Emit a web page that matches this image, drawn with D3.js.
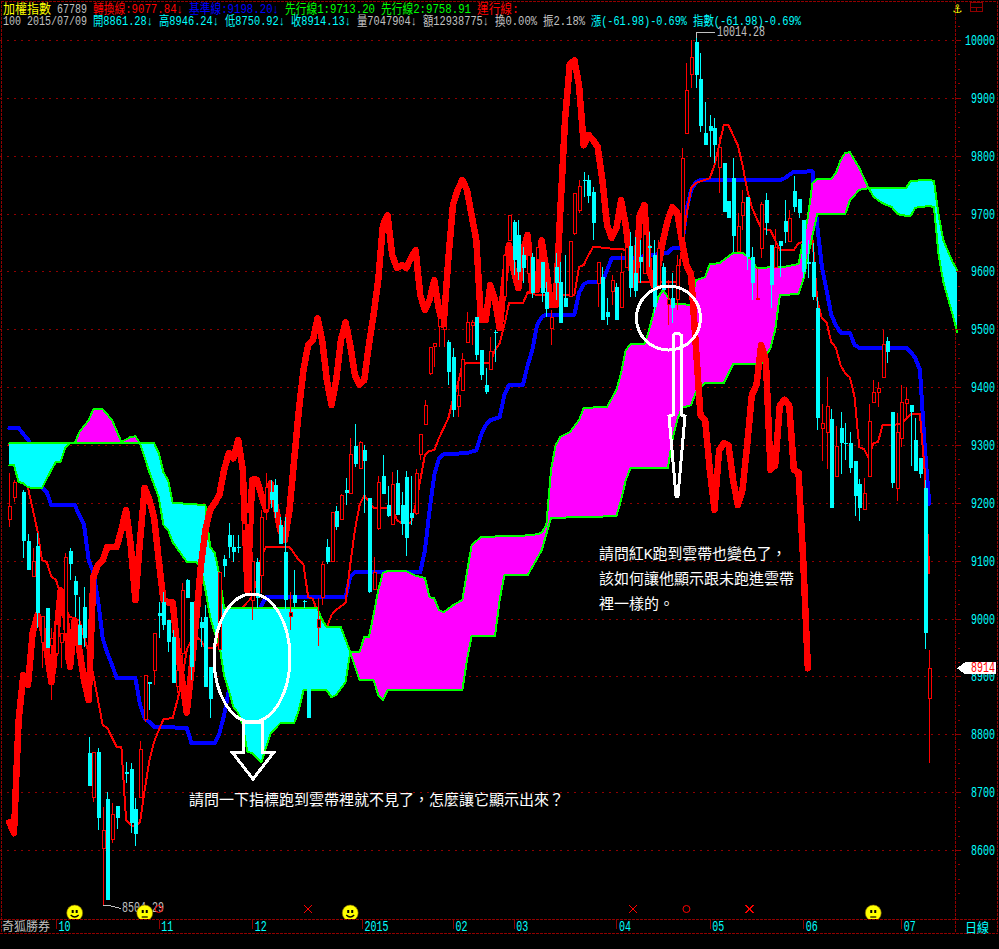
<!DOCTYPE html>
<html><head><meta charset="utf-8">
<script src="https://cdn.jsdelivr.net/npm/d3@7"></script>
<style>
html,body{margin:0;padding:0;background:#000;overflow:hidden}
svg{display:block}
text{font-family:"Liberation Mono","Noto Sans CJK TC",monospace;}
</style></head><body>
<script>
// ---------- values ----------
const priceTicks=[8600,8700,8800,8900,9000,9100,9200,9300,9400,9500,9600,9700,9800,9900,10000];
const monthDays=[10,32,52,75.5,95,108,130,150,170,191];
const monthLabels=["10","11","12","2015","02","03","04","05","06","07"];

const candleDays=[0,1,3,4,5,6,7,8,9,10,11,12,13,14,15,16,17,18,19,20,21,22,23,25,26,27,28,29,30,31,32,33,34,35,36,37,38,39,41,42,43,45,46,47,48,49,50,51,52,53,54,55,56,57,58,59,60,61,63,64,66,67,68,69,70,71,72,73,74,75,76,77,78,79,80,81,82,83,84,85,86,87,88,89,90,91,92,93,94,95,96,97,98,99,100,101,102,103,104,106,107,108,109,110,111,112,113,114,115,116,117,118,119,120,121,122,123,124,125,126,127,128,129,130,131,132,133,134,135,136,137,138,139,140,141,142,143,144,145,146,147,148,149,150,151,152,153,154,155,156,157,158,159,160,161,162,163,164,165,166,167,168,169,170,171,172,173,174,175,176,177,178,179,180,181,182,183,184,185,186,187,188,189,190,191,192,193,194,195,196,197];
const openValues=[9172,9210,9219,9134,9072,9125,8959,9018,8954,8940,8959,8975,9117,9065,8989,9020,8768,8691,8769,8603,8688,8619,8676,8735,8740,8671,8691,8825,8890,8911,9010,9028,8997,8968,8882,8940,9067,9028,8994,9003,8916,8946,9103,9144,9124,9124,9153,9162,9032,9098,9075,9188,9219,9231,9162,9115,9003,9041,9030,8882,8984,9037,9124,9098,9186,9172,9222,9217,9298,9260,9291,9208,9051,9155,9246,9196,9162,9234,9196,9245,9182,9181,9284,9336,9423,9471,9504,9500,9478,9452,9367,9395,9478,9506,9521,9464,9404,9430,9495,9556,9654,9685,9663,9628,9597,9625,9620,9616,9564,9502,9608,9582,9554,9556,9666,9706,9758,9758,9737,9580,9590,9530,9566,9573,9537,9606,9644,9597,9625,9597,9644,9628,9576,9608,9542,9554,9551,9658,9839,9941,9996,9932,9839,9851,9848,9780,9787,9722,9761,9635,9696,9729,9625,9551,9640,9723,9646,9606,9652,9687,9651,9739,9725,9689,9616,9616,9537,9329,9322,9345,9246,9329,9303,9303,9272,9232,9189,9246,9374,9391,9416,9480,9357,9224,9312,9371,9369,9309,9277,9226,8861.28];
const highValues=[9252,9239,9222,9146,9122,9148,9003,9018,8984,8997,8975,9113,9122,9074,9037,9054,8795,8769,8776,8674,8700,8681,8676,8752,8750,8690,8788,8902,8890,8975,9028,9046,8997,8980,8911,9061,9068,9028,9003,9023,8916,9079,9110,9165,9144,9144,9165,9200,9115,9105,9188,9252,9239,9241,9175,9175,9046,9084,9032,8882,9035,9098,9137,9184,9194,9215,9243,9312,9336,9307,9300,9208,9106,9246,9283,9229,9253,9257,9219,9255,9246,9258,9319,9378,9469,9476,9533,9504,9481,9468,9409,9459,9530,9516,9521,9464,9433,9487,9499,9628,9697,9689,9689,9642,9637,9632,9642,9616,9582,9533,9632,9616,9628,9651,9735,9758,9772,9767,9746,9616,9608,9554,9594,9580,9632,9642,9668,9659,9654,9663,9668,9654,9654,9614,9585,9597,9628,9813,9960,10000,10014.28,9977,9893,9870,9865,9832,9787,9722,9796,9701,9741,9729,9642,9606,9720,9735,9646,9673,9652,9723,9706,9765,9725,9689,9654,9649,9556,9371,9417,9362,9333,9357,9338,9322,9272,9241,9243,9371,9412,9409,9499,9487,9357,9355,9404,9400,9369,9347,9277,9239,8946.24];
const lowValues=[9158,9201,9105,9084,9072,8984,8914,8949,8859,8914,8914,8928,9067,9003,8954,8951,8711,8683,8634,8504.29,8514,8612,8636,8716,8629,8607,8691,8821,8842,8885,8966,8980,8942,8889,8871,8882,9035,8894,8951,8882,8828,8946,9072,9105,9098,9113,9153,9044,8997,9018,9044,9170,9191,9174,9129,9015,8980,9020,9018,8828,8953,9023,9094,9098,9153,9170,9196,9217,9262,9260,9182,9044,9049,9153,9215,9175,9162,9179,9144,9108,9162,9179,9274,9336,9421,9435,9469,9469,9404,9348,9348,9395,9476,9473,9447,9412,9388,9430,9443,9556,9654,9594,9585,9580,9597,9554,9616,9547,9521,9473,9551,9511,9538,9556,9663,9701,9729,9718,9654,9538,9516,9507,9542,9516,9537,9606,9556,9556,9580,9597,9608,9528,9576,9568,9507,9511,9533,9658,9839,9917,9917,9841,9818,9798,9787,9735,9703,9692,9633,9635,9671,9602,9551,9551,9623,9663,9537,9606,9590,9649,9651,9703,9692,9588,9588,9551,9326,9272,9258,9191,9246,9250,9274,9252,9177,9169,9189,9246,9374,9366,9416,9442,9226,9203,9296,9348,9264,9255,9243,8947,8750.92];
const closeValues=[9193,9236,9134,9084,9098,9010,9003,8949,8966,8989,8975,9105,9094,9041,8954,8966,8711,8768,8655,8633,8514,8662,8655,8731,8647,8628,8773,8902,8887,8975,9004,8989,8959,8889,8911,9049,9035,8916,8984,8882,8861,9079,9091,9124,9115,9122,9165,9184,9098,9035,9174,9226,9205,9184,9129,9032,9011,9027,9028,8828,8999,9094,9098,9184,9158,9212,9217,9284,9267,9305,9272,9046,9079,9236,9215,9177,9231,9179,9163,9139,9174,9250,9319,9369,9468,9476,9519,9504,9426,9360,9386,9447,9512,9511,9455,9421,9391,9461,9493,9628,9697,9620,9599,9606,9628,9563,9642,9563,9535,9521,9580,9511,9538,9651,9735,9746,9756,9730,9684,9616,9516,9521,9585,9516,9599,9642,9571,9566,9616,9663,9640,9538,9640,9568,9551,9537,9611,9796,9912,9970,9939,9851,9818,9843,9818,9815,9703,9692,9661,9678,9720,9625,9580,9554,9715,9684,9576,9642,9644,9668,9692,9711,9701,9599,9613,9556,9347,9338,9367,9191,9298,9303,9302,9260,9212,9191,9217,9340,9390,9397,9473,9461,9234,9322,9374,9378,9357,9255,9250,8975,8914.13];

const laggingValues=[8648,8629,8825,8902,8885,8975,9006,8985,8946,8890,8963,9049,9010,8916,8997,8946,8894,8859,9072,9093,9101,9124,9124,9124,9153,9188,9127,9032,9136,9226,9205,9175,9101,9032,9028,9028,8946,8894,8837,8911,8998,9089,9153,9188,9200,9214,9257,9286,9277,9309,9257,9049,9240,9240,9213,9188,9234,9196,9153,9136,9188,9274,9360,9430,9473,9481,9519,9481,9412,9369,9412,9481,9512,9473,9421,9404,9412,9473,9525,9585,9680,9697,9628,9606,9611,9606,9623,9637,9559,9533,9551,9585,9533,9507,9620,9715,9741,9758,9741,9697,9654,9516,9516,9576,9551,9502,9585,9646,9602,9571,9637,9663,9568,9568,9654,9602,9542,9542,9706,9862,9957,9965,9922,9818,9836,9827,9815,9758,9680,9658,9675,9723,9680,9611,9576,9697,9715,9602,9576,9611,9654,9689,9711,9702,9654,9611,9594,9473,9352,9343,9257,9188,9291,9303,9300,9239,9196,9222,9300,9386,9404,9473,9447,9257,9265,9369,9378,9369,9257,9253,9101,8914];

const baseDays=[0,2,4,5,7,8,9,14,16,17,18,19,20,21,22,23,27,28,29,30,31,38,39,44,45,46,47,53,54,55,72,73,74,88,89,90,91,92,93,98,100,101,102,103,105,106,107,110,111,112,113,114,115,121,122,123,124,127,128,129,133,141,142,144,145,146,147,148,165,166,167,168,172,173,174,175,176,177,178,180,181,182,192,193,194,195,196,197];
const baseValues=[9329,9329,9309,9295,9226,9219,9196,9196,9162,9101,9080,9032,8966,8940,8920,8897,8897,8851,8828,8821,8813,8811,8785,8785,8802,8833,8876,8997,9023,9037,9037,9072,9080,9080,9118,9188,9248,9277,9284,9286,9291,9317,9334,9343,9348,9386,9404,9404,9438,9464,9507,9521,9525,9525,9563,9578,9582,9582,9602,9623,9623,9632,9640,9640,9706,9741,9754,9758,9758,9761,9767,9772,9773,9680,9608,9568,9525,9507,9494,9494,9473,9468,9468,9461,9450,9430,9300,9198.2];

const conversionDays=[0,3,4,6,7,8,9,10,12,13,15,17,18,19,20,21,23,24,25,26,27,28,29,30,31,32,33,35,36,37,38,39,40,41,42,44,45,49,50,52,53,54,55,60,62,63,64,65,66,67,68,69,70,72,73,74,75,76,78,82,83,84,86,87,88,89,90,91,92,94,95,96,97,98,103,104,105,106,107,110,111,113,121,122,123,124,125,126,128,133,134,143,144,145,146,147,150,151,152,153,154,156,157,158,159,160,161,163,165,168,169,170,172,173,174,175,176,177,178,179,180,181,182,183,184,185,186,187,191,193,195,196,197];
const conversionValues=[9300,9257,9226,9153,9101,9098,9072,9067,9015,9003,8997,8940,8902,8859,8816,8811,8778,8778,8652,8643,8640,8648,8704,8755,8787,8807,8826,8828,8859,8894,8946,8963,8968,8963,8949,8949,8960,9015,9020,9037,9067,9110,9124,9124,9101,9093,9037,9034,9011,8989,8985,9006,9015,9027,9093,9153,9196,9213,9191,9191,9170,9165,9165,9196,9239,9283,9290,9291,9312,9346,9378,9404,9438,9442,9442,9464,9476,9507,9545,9545,9564,9559,9559,9608,9611,9628,9642,9642,9640,9637,9582,9582,9637,9697,9744,9753,9761,9784,9818,9853,9853,9818,9784,9741,9711,9692,9675,9671,9637,9637,9649,9651,9654,9551,9519,9512,9478,9468,9438,9424,9417,9383,9296,9293,9277,9303,9305,9334,9336,9353,9353,9257,9077.84];

const span1Days=[0,1,2,3,4,5,7,9,10,11,12,13,14,15,17,18,20,22,24,26,27,28,30,32,33,34,35,38,40,41,42,43,44,45,46,47,48,49,50,51,52,53,54,55,56,58,59,61,62,63,67,68,69,70,72,73,74,75,76,77,78,79,80,81,85,87,89,90,91,92,93,95,97,99,101,112,114,115,116,117,118,120,122,123,128,130,131,132,133,136,137,138,139,140,141,142,146,147,149,150,152,153,155,157,159,160,166,169,170,171,172,173,176,177,178,179,180,182,184,185,186,187,189,190,191,193,194,197,198,199,200,202,203];
const span1Values=[9265,9265,9236,9234,9227,9226,9226,9257,9271,9271,9295,9304,9303,9322,9343,9362,9362,9343,9305,9314,9315,9303,9253,9210,9162,9153,9132,9098,9098,9089,9049,9003,8975,8954,8901,8876,8847,8837,8816,8769,8768,8760,8752,8778,8802,8819,8819,8819,8842,8876,8876,8876,8864,8868,8890,8942,8942,8942,8968,8968,9006,9049,9079,9082,9082,9074,9070,9037,9035,9015,9011,9023,9032,9127,9141,9144,9148,9162,9257,9300,9314,9322,9343,9364,9366,9395,9424,9464,9474,9474,9499,9530,9556,9568,9556,9545,9542,9585,9590,9613,9614,9620,9632,9632,9620,9606,9608,9613,9654,9694,9753,9760,9760,9770,9792,9805,9806,9779,9744,9730,9723,9718,9711,9701,9697,9696,9710,9713.2,9711,9628,9582,9525,9495];

const span2Days=[0,14,28,31,32,33,34,35,39,42,43,44,45,46,66,67,68,71,73,75,78,79,80,81,97,98,99,104,105,106,111,114,116,130,131,132,133,141,142,143,144,146,147,149,153,155,161,163,164,165,169,170,171,172,173,179,180,182,184,192,193,197,198,199,200,202,203];
const span2Values=[9303,9303,9303,9303,9286,9253,9239,9200,9198,9196,9124,9113,9075,9018,9018,8997,8985,8985,8942,8894,8894,8868,8859,8876,8876,8928,8970,8970,9032,9075,9075,9118,9174,9177,9205,9239,9260,9260,9309,9343,9364,9369,9391,9407,9407,9440,9440,9468,9499,9559,9561,9585,9625,9663,9699,9699,9723,9741,9744,9744,9756,9758.91,9756,9697,9654,9616,9602];
const cloudCrossDays=[0,14,28,73,184,203];

const signalDays=[14,29,32,64,73,133.5,145,158.5,185];
const signalKinds=["smile","sad","circle","cross","smile","cross","circle","cross","sad"];

const headerRow1=[["加權指數",3,"#ffff00"],["67789",57,"#c0c0c0"],["轉換線:9077.84↓",93,"#ff0000"],["基準線:9198.20↓",189,"#0000ff"],["先行線1:9713.20",285,"#00ff00"],["先行線2:9758.91",381,"#00ff00"],["運行線:",477,"#ff0000"]];
const headerRow2=[["100",3,"#c0c0c0"],["2015/07/09",27,"#c0c0c0"],["開8861.28↓",93,"#00ffff"],["高8946.24↓",159,"#00ffff"],["低8750.92↓",225,"#00ffff"],["收8914.13↓",291,"#00ffff"],["量7047904↓",357,"#c0c0c0"],["額12938775↓",423,"#c0c0c0"],["換0.00%",495,"#c0c0c0"],["振2.18%",543,"#c0c0c0"],["漲(-61.98)-0.69%",591,"#00ffff"],["指數(-61.98)-0.69%",693,"#00ffff"]];
const noteLines=[["請問一下指標跑到雲帶裡就不見了，怎麼讓它顯示出來？",189,805],["請問紅K跑到雲帶也變色了，",599,559],["該如何讓他顯示跟未跑進雲帶",599,584],["裡一樣的。",599,609]];

// ---------- scales ----------
const W=999,H=949;
const x=d3.scaleLinear().domain([0,197]).range([9.3,929.3]);
const y=d3.scaleLinear().domain([8600,10000]).range([850,40]);
const RED="#ff0000",CYAN="#00ffff",DRED="#900000";

const svg=d3.select("body").append("svg").attr("width",W).attr("height",H).style("background","#000");
const crisp=s=>s.attr("shape-rendering","crispEdges");

function textWidth(str,unit){let w=0;for(const ch of str){w+=(ch.charCodeAt(0)>255&&ch!=="↓")?unit:unit/2;}return w;}
function label(g,str,px,py,size,color,unit){
  return g.append("text").attr("x",px).attr("y",py).attr("fill",color).attr("font-size",size)
    .attr("textLength",textWidth(str,unit||size)).attr("lengthAdjust","spacingAndGlyphs").text(str);
}

// frame and grid
const gridG=svg.append("g").call(crisp);
gridG.selectAll("line.g").data(priceTicks).join("line")
  .attr("x1",0).attr("x2",956).attr("y1",d=>Math.round(y(d))+.5).attr("y2",d=>Math.round(y(d))+.5)
  .attr("stroke",DRED).attr("stroke-dasharray","2 5");
const frame=[[1,1,997,1],[1,1,1,933],[997,1,997,933],[0,919.5,998,919.5],[0,933.5,998,933.5],[955.5,1,955.5,933]];
gridG.selectAll("line.f").data(frame).join("line").attr("class","f")
  .attr("x1",d=>d[0]).attr("y1",d=>d[1]).attr("x2",d=>d[2]).attr("y2",d=>d[3])
  .attr("stroke",DRED).attr("stroke-dasharray","3 1");

// lines under the cloud
const line=d3.line().x(d=>x(d[0])).y(d=>y(d[1]));
const zip=(a,b)=>a.map((d,i)=>[d,b[i]]);
const pathLine=(pts,color,w)=>svg.append("path").attr("d",line(pts)).attr("fill","none").attr("stroke",color).attr("stroke-width",w).attr("stroke-linejoin","round").attr("stroke-linecap","round").call(crisp);
pathLine(zip(baseDays,baseValues),"#0000ff",4);
pathLine(zip(conversionDays,conversionValues),RED,2);

// cloud
const span1=zip(span1Days,span1Values), span2=zip(span2Days,span2Values);
d3.pairs(cloudCrossDays).forEach(([a,b])=>{
  const top=span1.filter(d=>d[0]>=a&&d[0]<=b), bot=span2.filter(d=>d[0]>=a&&d[0]<=b);
  const pts=top.concat(bot.slice().reverse());
  const color=d3.mean(top,d=>d[1])>d3.mean(bot,d=>d[1])?"#ff00ff":CYAN;
  svg.append("path").attr("d",line(pts)+"Z").attr("fill",color).attr("stroke","none").call(crisp);
});
pathLine(span1,"#00ff00",2);
pathLine(span2,"#00ff00",2);

// lagging span
pathLine(laggingValues.map((v,i)=>[i,v]),RED,6.5);

// candles
const candles=candleDays.map((d,i)=>({d,o:openValues[i],h:highValues[i],l:lowValues[i],c:closeValues[i]}));
const cg=svg.append("g").call(crisp);
const colorOf=k=>k.c>=k.o?RED:CYAN;
cg.selectAll("line").data(candles).join("line")
  .attr("x1",k=>Math.round(x(k.d))+.5).attr("x2",k=>Math.round(x(k.d))+.5)
  .attr("y1",k=>y(k.h)).attr("y2",k=>y(k.l)).attr("stroke",colorOf);
cg.selectAll("rect").data(candles).join("rect")
  .attr("x",k=>Math.round(x(k.d))+(k.c>=k.o?-1:-1.5)).attr("width",k=>k.c>=k.o?3:4)
  .attr("y",k=>y(Math.max(k.o,k.c))).attr("height",k=>Math.max(1,Math.abs(y(k.o)-y(k.c))))
  .attr("fill",k=>k.c>=k.o?"#000":CYAN).attr("stroke",k=>k.c>=k.o?RED:"none");

// extreme labels
const hiK=candles[candleDays.indexOf(147)], loK=candles[candleDays.indexOf(20)];
const lg=svg.append("g");
lg.append("path").attr("d",`M${x(147)+.5},${y(hiK.h)+6}V${y(hiK.h)+1}H${x(147)+19}`).attr("fill","none").attr("stroke","#c0c0c0").call(crisp);
label(lg,"10014.28",717,y(hiK.h)+4,14,"#c0c0c0",12);
lg.append("path").attr("d",`M${x(20)},${y(loK.l)}H${x(20)+6}L${x(20)+18},${y(loK.l)+3}`).attr("fill","none").attr("stroke","#c0c0c0").call(crisp);
label(lg,"8504.29",122,y(loK.l)+7,14,"#c0c0c0",12);

// signals row
const clipId="sig";
svg.append("clipPath").attr("id",clipId).append("rect").attr("x",0).attr("y",0).attr("width",W).attr("height",919);
const sg=svg.append("g").attr("clip-path",`url(#${clipId})`);
signalDays.forEach((d,i)=>{
  const k=signalKinds[i],cx=x(d),cy=913;
  if(k==="smile"||k==="sad"){
    const g=sg.append("g").attr("transform",`translate(${cx},${cy})`);
    g.append("circle").attr("r",8).attr("fill","#ffff00").attr("stroke","#806000").attr("stroke-width",.6);
    g.append("rect").attr("x",-3).attr("y",-3).attr("width",2).attr("height",3).attr("fill","#000");
    g.append("rect").attr("x",1).attr("y",-3).attr("width",2).attr("height",3).attr("fill","#000");
    g.append("path").attr("d",k==="smile"?"M-4,2Q0,6 4,2":"M-3,4H3").attr("stroke","#000").attr("fill","none").attr("stroke-width",1.2);
  }else if(k==="cross"){
    svg.append("path").attr("d",`M${cx-4},${cy-8}l8,8M${cx+4},${cy-8}l-8,8`).attr("stroke",RED).attr("fill","none").call(crisp);
  }else{
    svg.append("circle").attr("cx",cx).attr("cy",cy-4).attr("r",3.5).attr("fill","none").attr("stroke",RED);
  }
});

// y axis
const minor=d3.range(8500,10050,25).filter(v=>v%100!==0);
svg.append("g").attr("transform","translate(956,0)")
  .call(d3.axisRight(y).tickValues(minor).tickSize(3).tickFormat(""))
  .call(g=>g.select(".domain").remove())
  .call(g=>g.selectAll("line").attr("stroke",DRED).attr("x1",2).attr("x2",4)).call(crisp);
const yAxis=svg.append("g").attr("transform","translate(956,0)")
  .call(d3.axisRight(y).tickValues(priceTicks).tickSize(5).tickFormat(d3.format("d")));
yAxis.select(".domain").remove();
yAxis.selectAll("line").attr("stroke",DRED).call(crisp);
yAxis.selectAll("text").attr("fill",CYAN).attr("font-size",14).attr("text-anchor","end").attr("x",39)
  .attr("font-family",'"Liberation Mono"').each(function(d){d3.select(this).attr("textLength",String(d).length*6).attr("lengthAdjust","spacingAndGlyphs");});

// x axis
const xAxis=svg.append("g").attr("transform","translate(0,920)")
  .call(d3.axisBottom(x).tickValues(monthDays).tickSize(9).tickFormat((d,i)=>monthLabels[i]));
xAxis.select(".domain").remove();
xAxis.selectAll("line").attr("stroke",DRED).call(crisp);
xAxis.selectAll("text").attr("fill",CYAN).attr("font-size",14).attr("text-anchor","start").attr("x",2).attr("y",1).attr("dy","0.72em")
  .attr("font-family",'"Liberation Mono"').each(function(d,i){d3.select(this).attr("textLength",monthLabels[i].length*6).attr("lengthAdjust","spacingAndGlyphs");});
const bottom=svg.append("g");
label(bottom,"奇狐勝券",2,931,12,"#c0c0c0");
label(bottom,"日線",965,932,13,CYAN,12);

// price tag
const tagY=y(closeValues[closeValues.length-1]);
svg.append("path").attr("d",`M957,${tagY}l8,-6h31v12h-31z`).attr("fill","#fff").call(crisp);
label(svg,"8914",971,tagY+4,14,RED,12);

// top-right icons
svg.append("text").attr("x",953).attr("y",13).attr("font-size",14).attr("fill","#ffff00").attr("font-family","DejaVu Sans").attr("font-weight","bold").text("⚓");
svg.append("path").attr("d","M970.5,2.5h12v9h-12zM970.5,7h12M976.5,7v4").attr("fill","none").attr("stroke",DRED).call(crisp);

// header
const hg=svg.append("g");
headerRow1.forEach(d=>label(hg,d[0],d[1],13,13,d[2],12));
headerRow2.forEach(d=>label(hg,d[0],d[1],25,13,d[2],12));

// hand-drawn annotations
const ag=svg.append("g");
const outline=s=>s.attr("fill","none").attr("stroke","#fff").attr("stroke-width",3).call(crisp);
ag.append("ellipse").attr("cx",252).attr("cy",658).attr("rx",38).attr("ry",64).call(outline);
ag.append("path").attr("d","M243,722H262V752H274L253,779L232,752H243Z").call(outline);
ag.append("ellipse").attr("cx",668.5).attr("cy",318).attr("rx",32).attr("ry",32).call(outline);
ag.append("path").attr("d","M673,335Q677,332 681,335V415L685,416L682,450L678,496L676,496L672,450L669,416L673,415Z").call(outline);
noteLines.forEach(d=>label(ag,d[0],d[1],d[2],15,"#fff").attr("font-family",'"Noto Sans CJK TC"'));
</script>
</body></html>
